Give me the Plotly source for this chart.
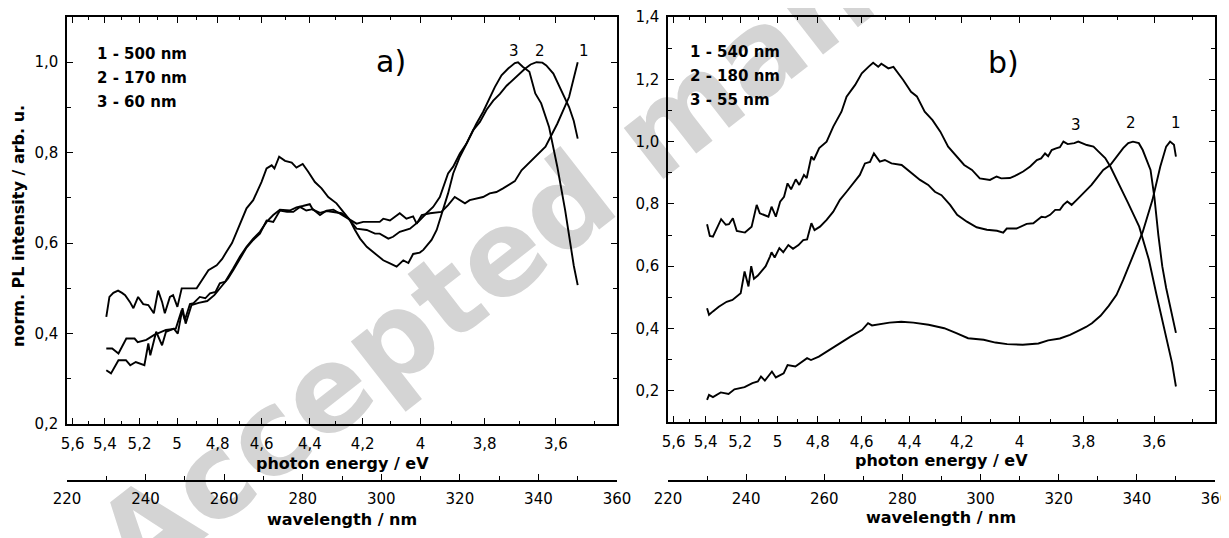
import plotly.graph_objects as go

# ---------------- data: panel a) ----------------
# curve 1 (500 nm)
wl_a1 = [230.0, 231.2, 233.1, 235.0, 236.1, 237.5, 239.7, 240.7, 241.2, 242.7, 244.2, 245.2, 247.2, 248.2,
         249.4, 250.2, 251.7, 253.5, 255.7, 257.5, 259.3, 261.0, 262.3, 264.0, 265.7, 267.4, 269.1, 270.8,
         272.5, 274.2, 276.0, 277.6, 279.3, 280.9, 282.6, 284.4, 286.1, 287.8, 289.9, 291.6, 293.7, 295.4,
         298.0, 299.6, 300.5, 302.2, 304.7, 306.4, 308.1, 309.0, 310.3, 312.4, 315.3, 317.0, 318.7, 320.0,
         321.3, 322.5, 324.2, 325.9, 327.6, 329.3, 331.0, 332.7, 334.0, 335.7, 338.7, 341.8, 344.8, 347.8, 350.0]
pl_a1 = [0.319, 0.312, 0.341, 0.341, 0.330, 0.337, 0.330, 0.378, 0.352, 0.404, 0.374, 0.404, 0.411, 0.400,
         0.456, 0.422, 0.463, 0.468, 0.472, 0.485, 0.504, 0.522, 0.540, 0.565, 0.590, 0.607, 0.621, 0.650,
         0.647, 0.672, 0.669, 0.669, 0.680, 0.672, 0.675, 0.662, 0.672, 0.674, 0.663, 0.655, 0.643, 0.647,
         0.648, 0.647, 0.654, 0.650, 0.666, 0.654, 0.659, 0.643, 0.662, 0.666, 0.669, 0.684, 0.702, 0.695,
         0.688, 0.695, 0.699, 0.702, 0.710, 0.713, 0.721, 0.730, 0.737, 0.761, 0.787, 0.813, 0.864, 0.923, 1.000]

# curve 2 (170 nm)
wl_a2 = [230.0, 231.5, 233.1, 235.1, 237.2, 238.0, 240.2, 242.2, 245.2, 247.7, 249.2, 250.0, 251.3, 252.2,
         253.8, 255.2, 256.4, 257.8, 258.9, 260.3, 262.3, 264.0, 265.7, 267.4, 269.1, 270.8, 272.5, 274.2,
         276.7, 278.4, 280.0, 281.8, 282.6, 284.4, 286.1, 287.8, 289.9, 291.6, 293.7, 296.3, 298.4, 299.6,
         301.8, 303.0, 304.7, 307.3, 309.4, 311.5, 313.2, 314.9, 317.0, 318.3, 320.0, 321.7, 323.4, 325.1,
         326.8, 328.5, 330.2, 331.9, 333.6, 334.9, 336.5, 338.0, 339.5, 341.0, 342.0, 343.8, 345.8, 347.8,
         349.0, 350.0]
pl_a2 = [0.367, 0.367, 0.356, 0.389, 0.389, 0.381, 0.386, 0.397, 0.408, 0.411, 0.452, 0.430, 0.465, 0.467,
         0.481, 0.478, 0.489, 0.492, 0.511, 0.515, 0.544, 0.570, 0.592, 0.610, 0.625, 0.647, 0.662, 0.674,
         0.672, 0.679, 0.682, 0.686, 0.674, 0.667, 0.671, 0.669, 0.666, 0.655, 0.632, 0.629, 0.621, 0.621,
         0.610, 0.614, 0.625, 0.632, 0.647, 0.666, 0.680, 0.702, 0.754, 0.769, 0.798, 0.820, 0.850, 0.868,
         0.895, 0.915, 0.930, 0.948, 0.962, 0.972, 0.985, 0.995, 1.000, 0.999, 0.993, 0.975, 0.938, 0.901,
         0.870, 0.831]

# curve 3 (60 nm)
wl_a3 = [230.0, 230.8, 231.8, 233.0, 234.0, 234.8, 236.0, 236.9, 238.1, 239.4, 240.7, 242.1, 243.2, 244.2,
         244.9, 246.2, 247.0, 248.1, 249.2, 251.0, 253.0, 254.5, 256.0, 258.1, 259.5, 260.6, 262.0, 263.2,
         264.5, 265.7, 267.4, 268.5, 269.5, 270.8, 272.1, 272.8, 274.0, 275.5, 277.2, 278.4, 280.0, 281.4,
         283.1, 284.8, 286.5, 288.6, 290.3, 292.0, 293.3, 294.6, 296.3, 297.9, 299.2, 300.5, 302.2, 303.9,
         305.6, 306.9, 308.1, 309.8, 310.7, 312.0, 312.8, 314.1, 314.9, 315.8, 317.0, 318.3, 320.0, 321.3,
         322.5, 324.2, 325.9, 327.6, 328.9, 330.6, 332.3, 334.0, 334.8, 336.0, 337.7, 339.2, 340.7, 342.7,
         344.8, 346.8, 349.0, 350.0]
pl_a3 = [0.437, 0.481, 0.490, 0.495, 0.490, 0.485, 0.470, 0.456, 0.481, 0.465, 0.463, 0.445, 0.495, 0.470,
         0.445, 0.481, 0.485, 0.459, 0.500, 0.500, 0.500, 0.520, 0.540, 0.551, 0.565, 0.581, 0.600, 0.625,
         0.650, 0.677, 0.695, 0.715, 0.735, 0.765, 0.772, 0.765, 0.791, 0.782, 0.778, 0.767, 0.775, 0.758,
         0.735, 0.721, 0.702, 0.688, 0.669, 0.651, 0.629, 0.610, 0.592, 0.581, 0.570, 0.562, 0.555, 0.548,
         0.562, 0.556, 0.576, 0.579, 0.585, 0.600, 0.607, 0.629, 0.651, 0.680, 0.710, 0.754, 0.791, 0.813,
         0.835, 0.864, 0.890, 0.920, 0.945, 0.971, 0.986, 0.998, 1.000, 0.990, 0.979, 0.931, 0.909, 0.857,
         0.769, 0.673, 0.550, 0.507]

# ---------------- data: panel b) ----------------
# curve 1 (540 nm)
wl_b1 = [230.0, 230.5, 231.5, 233.5, 235.5, 237.0, 239.6, 241.6, 243.0, 243.8, 244.8, 246.6, 247.6, 249.6,
         250.6, 252.6, 255.6, 256.6, 258.6, 260.6, 262.6, 264.7, 266.7, 269.7, 271.2, 272.2, 276.7, 279.7,
         282.8, 286.7, 290.7, 293.8, 296.8, 300.8, 303.8, 306.8, 310.8, 314.8, 317.3, 320.3, 322.9, 325.5,
         327.0, 328.5, 330.7, 332.8, 334.8, 336.5, 338.5, 341.5, 344.0, 346.0, 347.5, 348.5, 349.5, 350.0]
pl_b1 = [0.171, 0.187, 0.180, 0.195, 0.190, 0.205, 0.212, 0.225, 0.230, 0.246, 0.233, 0.262, 0.243, 0.256,
         0.283, 0.278, 0.305, 0.299, 0.310, 0.326, 0.342, 0.358, 0.374, 0.396, 0.417, 0.410, 0.419, 0.422,
         0.419, 0.412, 0.401, 0.385, 0.369, 0.364, 0.355, 0.350, 0.348, 0.352, 0.362, 0.368, 0.380, 0.396,
         0.405, 0.417, 0.441, 0.473, 0.508, 0.556, 0.620, 0.710, 0.813, 0.920, 0.984, 1.000, 0.990, 0.952]

# curve 2 (180 nm)
wl_b2 = [230.0, 230.5, 231.5, 233.0, 235.0, 236.5, 238.6, 239.6, 240.6, 241.3, 242.0, 243.0, 244.0, 245.0,
         246.1, 246.5, 247.3, 248.5, 249.5, 250.8, 252.0, 253.4, 254.6, 255.6, 256.7, 257.5, 258.9, 260.6,
         262.3, 264.0, 265.7, 267.4, 269.1, 270.4, 271.7, 272.7, 274.2, 275.5, 277.2, 279.8, 282.8, 284.5,
         286.6, 288.3, 290.0, 292.2, 294.0, 296.5, 299.0, 301.6, 304.2, 305.8, 306.7, 309.2, 311.8, 313.5,
         315.6, 316.6, 317.8, 319.1, 320.3, 321.2, 322.2, 323.3, 325.0, 326.7, 328.4, 329.7, 331.4, 333.2,
         334.8, 336.5, 337.8, 339.0, 340.5, 341.5, 343.5, 344.5, 345.5, 346.5, 347.5, 348.5, 349.3, 350.0]
pl_b2 = [0.465, 0.444, 0.455, 0.470, 0.486, 0.492, 0.513, 0.583, 0.535, 0.600, 0.560, 0.570, 0.585, 0.600,
         0.631, 0.645, 0.628, 0.658, 0.645, 0.668, 0.656, 0.668, 0.684, 0.686, 0.738, 0.716, 0.727, 0.749,
         0.775, 0.813, 0.839, 0.866, 0.893, 0.930, 0.935, 0.962, 0.936, 0.941, 0.930, 0.925, 0.893, 0.877,
         0.861, 0.839, 0.828, 0.797, 0.765, 0.743, 0.725, 0.717, 0.714, 0.708, 0.721, 0.721, 0.736, 0.738,
         0.759, 0.757, 0.765, 0.781, 0.781, 0.797, 0.808, 0.797, 0.818, 0.839, 0.861, 0.882, 0.909, 0.925,
         0.952, 0.979, 0.995, 1.000, 0.995, 0.973, 0.909, 0.820, 0.700, 0.600, 0.530, 0.470, 0.430, 0.386]

# curve 3 (55 nm)
wl_b3 = [230.0, 230.7, 231.5, 233.6, 234.8, 235.6, 236.6, 237.6, 239.7, 241.4, 242.7, 243.5, 245.7, 246.5,
         247.6, 248.7, 249.7, 250.6, 251.5, 252.7, 253.6, 254.8, 255.5, 256.7, 257.3, 258.7, 260.6, 262.3,
         264.4, 265.7, 267.9, 269.6, 271.3, 272.5, 273.8, 274.6, 276.4, 277.7, 280.2, 282.2, 283.7, 285.7,
         287.7, 289.7, 291.7, 293.8, 295.8, 297.8, 299.8, 302.4, 304.1, 305.3, 307.5, 308.8, 310.9, 312.7,
         314.4, 315.5, 316.5, 317.3, 318.2, 319.3, 320.3, 321.2, 322.3, 324.0, 325.0, 327.2, 328.9, 330.2,
         331.9, 333.2, 334.5, 336.2, 337.8, 340.6, 343.1, 345.0, 347.0, 349.0, 350.0]
pl_b3 = [0.735, 0.697, 0.695, 0.751, 0.733, 0.735, 0.754, 0.713, 0.708, 0.727, 0.797, 0.770, 0.759, 0.791,
         0.759, 0.807, 0.823, 0.866, 0.847, 0.879, 0.861, 0.893, 0.883, 0.952, 0.941, 0.979, 1.000, 1.048,
         1.096, 1.144, 1.182, 1.219, 1.240, 1.253, 1.240, 1.250, 1.235, 1.240, 1.198, 1.160, 1.145, 1.096,
         1.069, 1.032, 0.984, 0.952, 0.925, 0.909, 0.882, 0.877, 0.888, 0.882, 0.883, 0.890, 0.904, 0.920,
         0.941, 0.946, 0.962, 0.953, 0.973, 0.978, 0.982, 1.000, 0.992, 0.995, 1.000, 0.989, 0.984, 0.968,
         0.947, 0.920, 0.888, 0.845, 0.802, 0.727, 0.620, 0.510, 0.400, 0.290, 0.214]

# energy axis ticks (eV), placed on the wavelength scale through E = 1240 / lambda
energy_major = [5.6, 5.4, 5.2, 5.0, 4.8, 4.6, 4.4, 4.2, 4.0, 3.8, 3.6]
energy_labels = ['5,6', '5,4', '5,2', '5', '4,8', '4,6', '4,4', '4,2', '4', '3,8', '3,6']
energy_minor = [5.5, 5.3, 5.1, 4.9, 4.7, 4.5, 4.3, 4.1, 3.9, 3.7, 3.5]

legend_a = ['1 - 500 nm', '2 - 170 nm', '3 - 60 nm']
legend_b = ['1 - 540 nm', '2 - 180 nm', '3 - 55 nm']

# the page body adds an 8 px margin, so the figure is 8 px smaller and all
# positions below are given in window pixels and shifted by it
OFF = 8
W, H = 1229 - OFF, 538 - OFF
def px(x):
    return (x - OFF) / W
def py(y):
    return 1 - (y - OFF) / H

FONT = 'DejaVu Sans'
tickfont = dict(family=FONT, size=15, color='black')

fig = go.Figure()

for wl, pl in [(wl_a1, pl_a1), (wl_a2, pl_a2), (wl_a3, pl_a3)]:
    fig.add_trace(go.Scatter(x=wl, y=pl, mode='lines', line=dict(color='black', width=1.9),
                             xaxis='x', yaxis='y', showlegend=False, hoverinfo='skip'))
for wl, pl in [(wl_b1, pl_b1), (wl_b2, pl_b2), (wl_b3, pl_b3)]:
    fig.add_trace(go.Scatter(x=wl, y=pl, mode='lines', line=dict(color='black', width=1.9),
                             xaxis='x2', yaxis='y2', showlegend=False, hoverinfo='skip'))

# empty traces so the energy axes get drawn
for xa, ya in [('x3', 'y'), ('x5', 'y'), ('x4', 'y2'), ('x6', 'y2')]:
    fig.add_trace(go.Scatter(x=[None], y=[None], xaxis=xa, yaxis=ya, showlegend=False, hoverinfo='skip'))

dom_a = [px(67), px(617)]
dom_b = [px(668), px(1215)]

def wl_axis(dom):
    return dict(domain=dom, range=[220, 360], tick0=220, dtick=20, ticks='inside', ticklen=6,
                tickwidth=1.3, tickcolor='black', showline=True, linecolor='black', linewidth=1.5,
                showgrid=False, zeroline=False, tickfont=tickfont, anchor='free', position=py(481),
                ticklabelstandoff=4, automargin=False, ticklabeloverflow='allow',
                minor=dict(dtick=10, tick0=220, ticks='inside', ticklen=4, tickwidth=1.3, tickcolor='black'))

def energy_axis(dom, base, yref, major=True):
    vals = energy_major if major else energy_minor
    ax = dict(domain=dom, overlaying=base, anchor=yref, range=[220, 360], tickmode='array',
              tickvals=[1240 / e for e in vals], ticks='inside', ticklen=6 if major else 3.5,
              tickwidth=1.3, tickcolor='black', showline=True, linecolor='black', linewidth=1.5,
              mirror='ticks', showgrid=False, zeroline=False, tickfont=tickfont, automargin=False)
    if major:
        ax.update(ticktext=energy_labels, ticklabelstandoff=5)
    else:
        ax.update(showticklabels=False)
    return ax

def pl_axis(dom, rng, xref):
    return dict(domain=dom, range=rng, tick0=0.2, dtick=0.2, tickformat='.1f', ticks='inside',
                ticklen=6, tickwidth=1.3, tickcolor='black', showline=True, linecolor='black',
                linewidth=1.5, mirror='ticks', showgrid=False, zeroline=False, tickfont=tickfont,
                anchor=xref, ticklabelstandoff=4, automargin=False,
                minor=dict(dtick=0.1, ticks='inside', ticklen=4, tickwidth=1.3, tickcolor='black'))

def note(text, x, y, size=15, angle=0, xanchor='center'):
    return dict(text=text, x=px(x), y=py(y), xref='paper', yref='paper', showarrow=False,
                xanchor=xanchor, yanchor='middle', textangle=angle,
                font=dict(family=FONT, size=size, color='black'))

annotations = []
# legends
for i, t in enumerate(legend_a):
    annotations.append(note('<b>' + t + '</b>', 95, 54 + 24 * i, xanchor='left'))
for i, t in enumerate(legend_b):
    annotations.append(note('<b>' + t + '</b>', 688, 52 + 24 * i, xanchor='left'))
# panel letters
annotations.append(note('a)', 391, 62, size=30))
annotations.append(note('b)', 1003, 63, size=30))
# curve numbers
for t, x, y in [('3', 514, 51), ('2', 540, 51), ('1', 584, 51),
                ('3', 1076, 125), ('2', 1131, 123), ('1', 1176, 123)]:
    annotations.append(note(t, x, y))
# axis titles
for t, x, y in [('photon energy / eV', 342, 463), ('wavelength / nm', 342, 519),
                ('photon energy / eV', 941, 460), ('wavelength / nm', 941, 517)]:
    annotations.append(note('<b>' + t + '</b>', x, y, size=16))
annotations.append(note('<b>norm. PL intensity / arb. u.</b>', 18, 226, size=16, angle=-90))

# watermark, kept under the curves and axes
watermark = dict(type='rect', xref='paper', yref='paper', x0=px(622), x1=px(702), y0=py(158), y1=py(78),
                 line=dict(width=0), fillcolor='rgba(0,0,0,0)', layer='below',
                 label=dict(text='<b>Accepted manuscript</b>', textangle=-38, textposition='middle center',
                            font=dict(family=FONT, size=118, color='rgb(212,212,212)')))

fig.update_layout(
    width=W, height=H, margin=dict(l=0, r=0, t=0, b=0, autoexpand=False),
    paper_bgcolor='white', plot_bgcolor='rgba(0,0,0,0)', separators=',.', showlegend=False,
    xaxis=wl_axis(dom_a), xaxis2=wl_axis(dom_b),
    xaxis3=energy_axis(dom_a, 'x', 'y'), xaxis5=energy_axis(dom_a, 'x', 'y', major=False),
    xaxis4=energy_axis(dom_b, 'x2', 'y2'), xaxis6=energy_axis(dom_b, 'x2', 'y2', major=False),
    yaxis=pl_axis([py(424), py(17)], [0.2, 1.1], 'x'),
    yaxis2=pl_axis([py(422), py(17)], [0.1, 1.4], 'x2'),
    annotations=annotations, shapes=[watermark],
)

fig.write_html("out.html")
